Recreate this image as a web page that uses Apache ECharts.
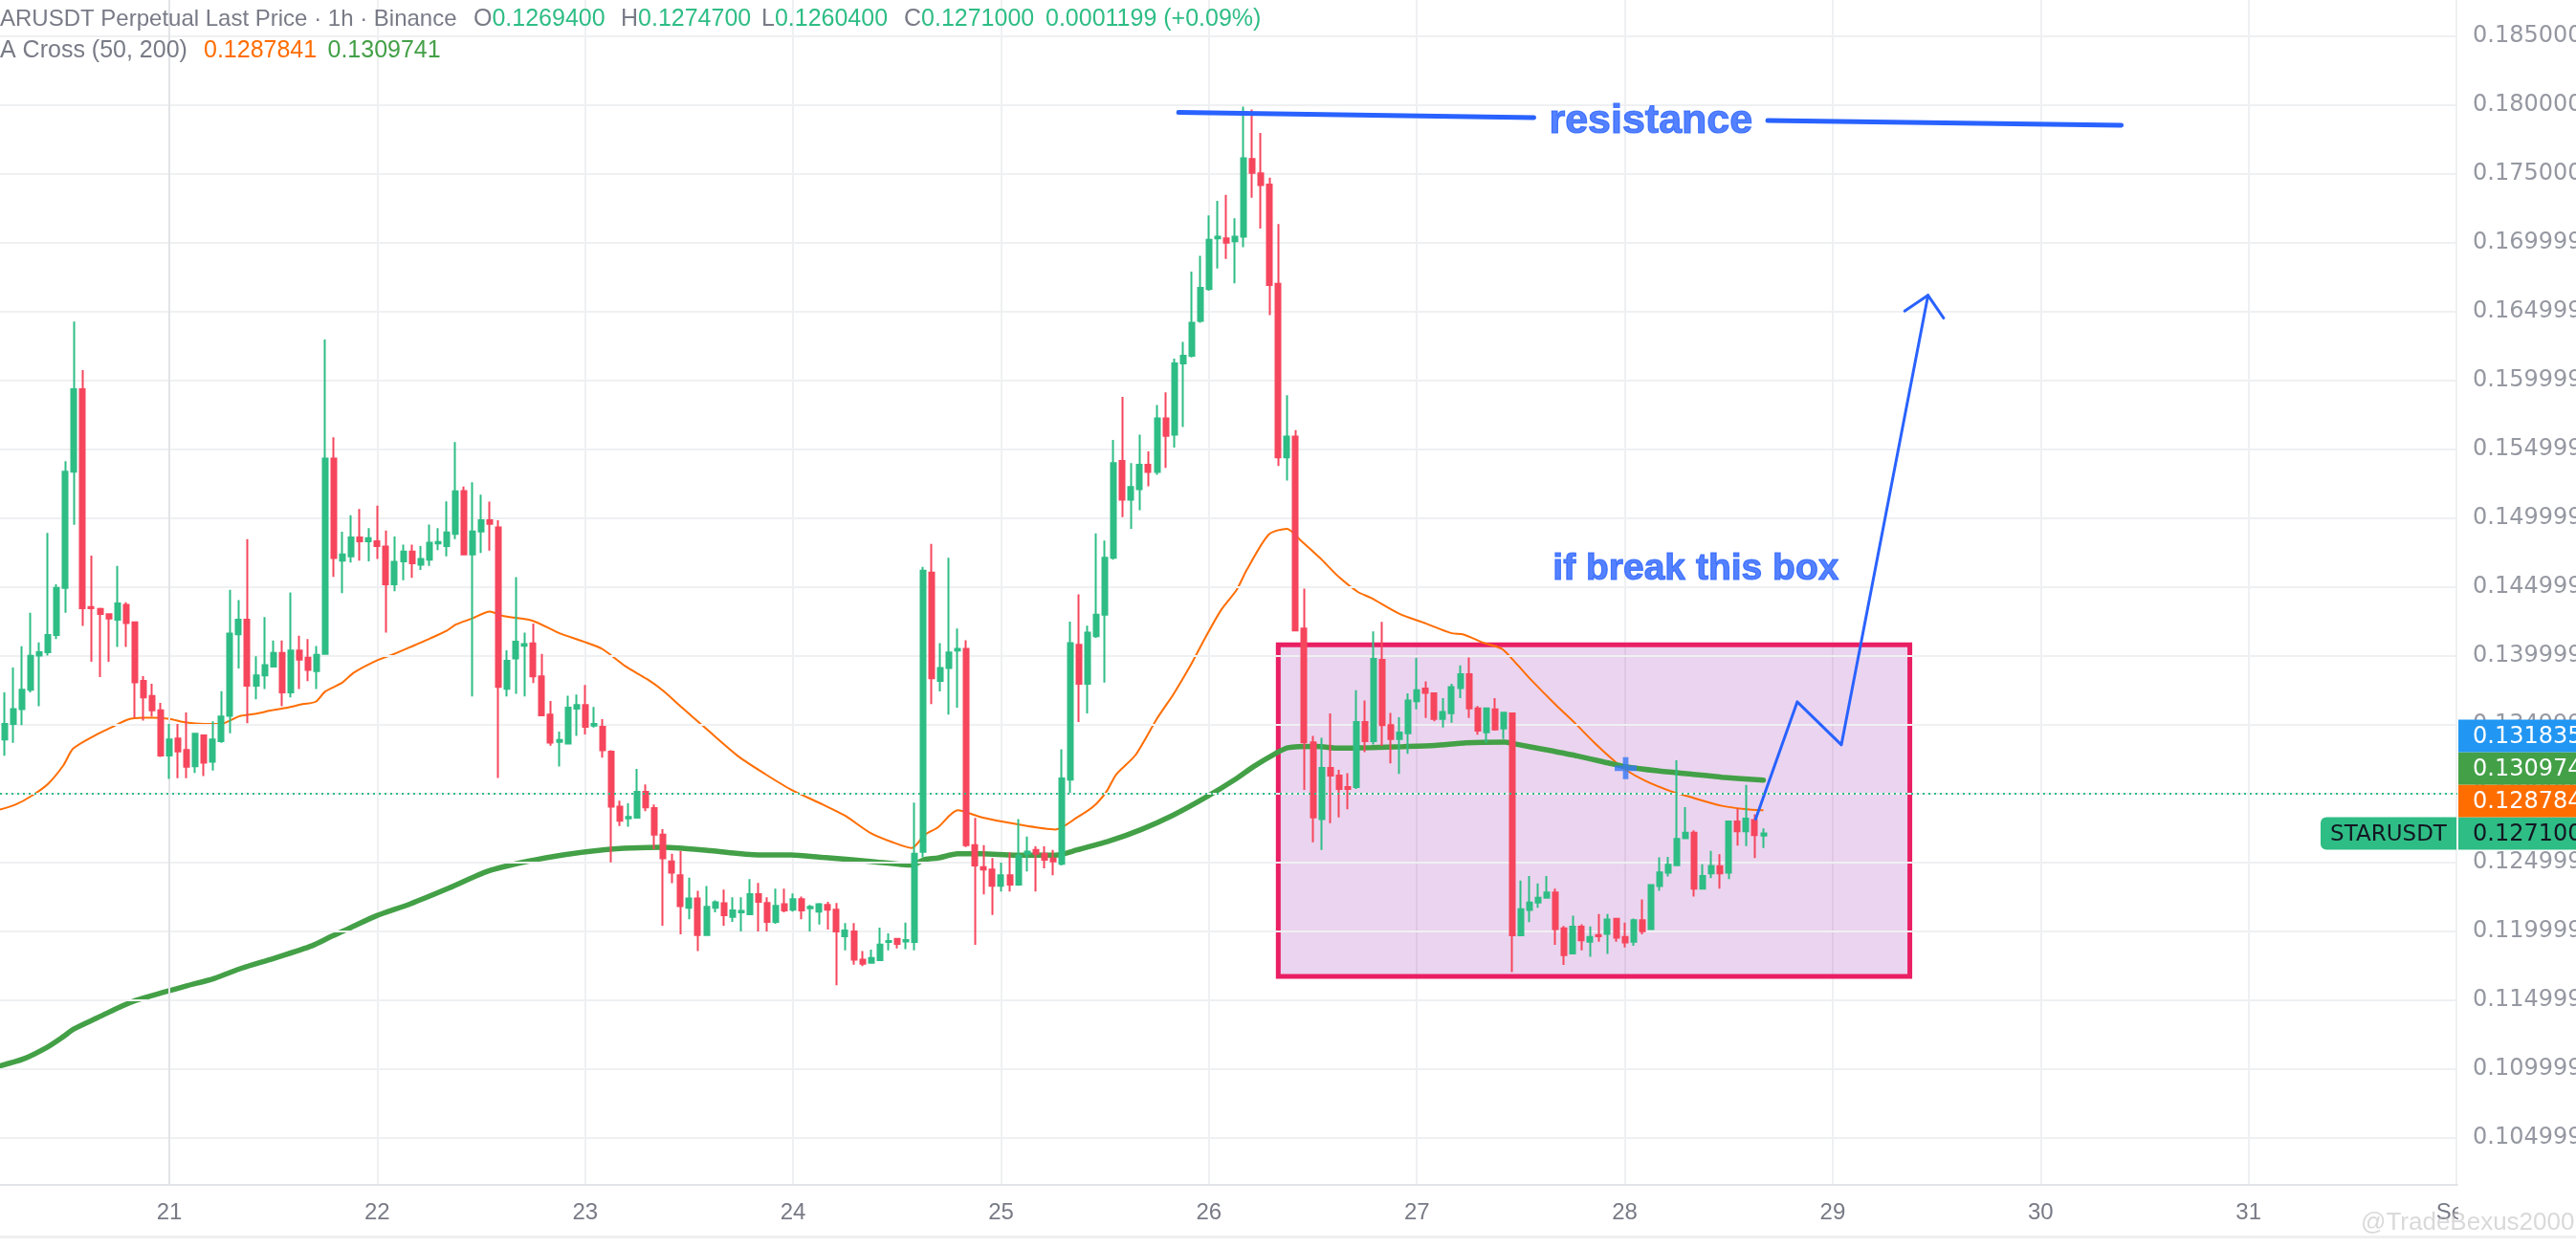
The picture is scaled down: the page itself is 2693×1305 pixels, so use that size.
<!DOCTYPE html>
<html><head><meta charset="utf-8">
<script src="https://cdn.jsdelivr.net/npm/echarts@6/dist/echarts.min.js"></script>
<style>html,body{margin:0;padding:0;background:#fff;overflow:hidden}#c{width:2693px;height:1305px}</style>
</head><body><div id="c"></div>
<script>
// ---------- DATA ----------
const firstHour = -19; // first candle: Aug 20 05:00 (hours from Aug 21 00:00)
const candleOpen = [
.13393,.13505,.13614,.13754,.14002,.14027,.14151,.14494,.15337,.15936,
.14355,.14340,.14303,.14263,.14370,.14243,.13818,.13709,.13604,.13276,
.13400,.13316,.13199,.13423,.13231,.13381,.13565,.14156,.14263,.13783,
.13858,.13923,.14022,.13734,.14039,.13987,.13890,.14015,.15432,.14691,
.14723,.14860,.14832,.14832,.14793,.14519,.14686,.14758,.14661,.14698,
.14817,.14798,.14885,.15197,.14737,.14903,.14985,.14933,.13760,.13981,
.14074,.14091,.13851,.13573,.13375,.13364,.13617,.13642,.13494,.13485,
.13304,.12905,.12819,.12825,.13012,.12894,.12701,.12508,.12406,.12170,
.12239,.11972,.12170,.12203,.12104,.12137,.12123,.12269,.12206,.12068,
.12197,.12156,.12233,.12167,.12142,.12192,.12156,.11963,.11999,.11793,
.11771,.11790,.11922,.11944,.11925,.11922,.12577,.14605,.13818,.13911,
.14038,.14050,.12625,.12465,.12448,.12330,.12406,.12338,.12562,.12591,
.12562,.12528,.12490,.13101,.14080,.13797,.14143,.14299,.14712,.15416,
.15134,.15210,.15387,.15336,.15724,.15606,.16124,.16179,.16432,.16664,
.17031,.17031,.17010,.17043,.17608,.17503,.17423,.16702,.15441,.15593,
.14198,.13371,.12815,.13186,.13131,.13047,.13047,.13519,.13380,.13970,
.13496,.13397,.13438,.13670,.13762,.13727,.13542,.13584,.13766,.13866,
.13619,.13445,.13612,.13473,.13582,.11970,.12155,.12208,.12243,.12282,
.12021,.11838,.12033,.11924,.11972,.11982,.12090,.11958,.11924,.12081,
.12016,.12328,.12426,.12479,.12675,.12715,.12310,.12420,.12472,.12426,
.12798,.12726,.12807,.12694];
const candleHigh = [
.13734,.13915,.14069,.14313,.14097,.14892,.14519,.15414,.16428,.16075,
.14728,.14350,.14308,.14653,.14390,.14243,.13853,.13798,.13659,.13505,
.13505,.13589,.13440,.13423,.13525,.13744,.14479,.14405,.14847,.13997,
.14281,.14112,.14112,.14460,.14146,.14121,.14072,.16297,.15588,.14902,
.15021,.15066,.14927,.15091,.14910,.14867,.14808,.14808,.14798,.14954,
.14927,.15121,.15553,.15230,.15260,.15170,.15120,.14985,.14041,.14572,
.14168,.14234,.14014,.13672,.13450,.13711,.13719,.13788,.13628,.13540,
.13315,.12949,.12929,.13180,.13067,.12921,.12742,.12563,.12583,.12390,
.12294,.12329,.12225,.12302,.12247,.12247,.12379,.12351,.12247,.12310,
.12310,.12274,.12252,.12192,.12206,.12214,.12206,.12060,.12060,.11856,
.11867,.12027,.11985,.11950,.12062,.12935,.14647,.14812,.14092,.14712,
.14198,.14113,.12823,.12625,.12532,.12499,.12574,.12815,.12688,.12617,
.12617,.12591,.13321,.14248,.14446,.14219,.14889,.14838,.15568,.15880,
.15399,.15606,.15484,.15821,.15914,.16158,.16280,.16790,.16904,.17199,
.17305,.17347,.17178,.17988,.17967,.17798,.17473,.17136,.15892,.15640,
.14489,.13418,.13405,.13582,.13173,.13148,.13751,.13676,.14178,.14247,
.13586,.13554,.13727,.13985,.13815,.13734,.13693,.13797,.13931,.13988,
.13635,.13623,.13693,.13593,.13588,.12368,.12402,.12347,.12402,.12310,
.12039,.12113,.12051,.12035,.12125,.12125,.12097,.12063,.12093,.12231,
.12340,.12537,.12541,.13242,.12902,.12733,.12486,.12583,.12560,.12803,
.12890,.13062,.12849,.12747];
const candleLow = [
.13274,.13368,.13497,.13734,.13634,.14002,.14121,.14313,.14952,.14218,
.13957,.13846,.13957,.14064,.14064,.13550,.13530,.13560,.13266,.13107,
.13112,.13112,.13149,.13127,.13167,.13368,.13438,.13908,.13510,.13684,
.13759,.13923,.13634,.13699,.13759,.13816,.13759,.14015,.14574,.14455,
.14678,.14691,.14686,.14703,.14169,.14469,.14549,.14566,.14624,.14653,
.14768,.14723,.14847,.14730,.13705,.14746,.14765,.13114,.13705,.13725,
.13705,.13802,.13563,.13348,.13196,.13364,.13419,.13430,.13480,.13260,
.12500,.12764,.12759,.12825,.12872,.12596,.12040,.12349,.11977,.12087,
.11856,.11966,.12137,.12040,.12068,.11999,.12123,.11999,.11999,.12054,
.12137,.12142,.12087,.11999,.12049,.12013,.11608,.11862,.11757,.11746,
.11765,.11785,.11862,.11875,.11870,.11862,.12536,.13650,.13742,.13574,
.13624,.12612,.11901,.12267,.12119,.12288,.12288,.12330,.12435,.12288,
.12457,.12406,.12477,.13005,.13519,.13582,.14130,.13806,.14699,.15007,
.14923,.15058,.15231,.15315,.15365,.15513,.15661,.16167,.16419,.16651,
.16812,.16883,.16706,.16968,.17326,.17102,.16474,.15378,.15273,.14177,
.13026,.12646,.12591,.12785,.12827,.12886,.13034,.13300,.13357,.13346,
.13219,.13142,.13288,.13612,.13549,.13524,.13480,.13515,.13693,.13549,
.13427,.13369,.13457,.13397,.11704,.11970,.12067,.12171,.12243,.11901,
.11755,.11836,.11862,.11815,.11924,.11836,.11924,.11882,.11894,.11977,
.12016,.12294,.12398,.12479,.12675,.12252,.12305,.12386,.12310,.12379,
.12622,.12618,.12532,.12604];
const candleClose = [
.13505,.13614,.13754,.14000,.14027,.14151,.14494,.15337,.15936,.14345,
.14345,.14305,.14271,.14380,.14238,.13808,.13699,.13604,.13276,.13393,
.13306,.13194,.13435,.13224,.13393,.13560,.14161,.14263,.13783,.13858,
.13933,.14022,.13734,.14039,.13972,.13898,.14007,.15432,.14711,.14736,
.14860,.14832,.14855,.14798,.14519,.14683,.14758,.14673,.14703,.14822,
.14827,.14897,.15195,.14737,.14903,.14985,.14958,.13774,.13964,.14102,
.14085,.13851,.13568,.13370,.13389,.13623,.13642,.13485,.13505,.13315,
.12905,.12803,.12830,.13012,.12899,.12701,.12530,.12426,.12183,.12239,
.11972,.12178,.12211,.12117,.12151,.12148,.12269,.12214,.12068,.12184,
.12151,.12233,.12151,.12178,.12197,.12156,.11999,.12005,.11793,.11765,
.11806,.11903,.11930,.11909,.11936,.12563,.14619,.13838,.13911,.14025,
.14050,.12625,.12478,.12448,.12330,.12406,.12338,.12549,.12579,.12562,
.12520,.12507,.13110,.14092,.13797,.14168,.14299,.14712,.15399,.15134,
.15226,.15387,.15336,.15724,.15597,.16124,.16179,.16419,.16672,.17022,
.17043,.17001,.17043,.17613,.17507,.17419,.16693,.15441,.15593,.14185,
.13371,.12827,.13186,.13131,.13034,.13034,.13519,.13380,.13977,.13496,
.13397,.13443,.13676,.13750,.13732,.13542,.13593,.13773,.13866,.13619,
.13457,.13619,.13466,.13588,.11970,.12160,.12208,.12243,.12282,.12016,
.11827,.12033,.11935,.11958,.11963,.12086,.11954,.11919,.12081,.12000,
.12336,.12428,.12483,.12671,.12715,.12310,.12402,.12474,.12420,.12798,
.12726,.12818,.12698,.12710];

const ma50Hours = [-19.54,-17.7,-15.9,-14.0,-12.2,-11.1,-8.5,-6.7,-4.8,-3.0,-1.9,0,1.8,4.0,5.9,8.1,9.9,11.8,13.6,15.4,16.9,18.0,19.9,21.3,23.9,25.7,28.3,30.1,32.0,33.1,34.9,37.0,38.6,41.9,44.9,47.8,50.0,52.6,55.2,57.0,59.2,62.2,65.8,68.8,71.7,75.4,78.0,80.9,83.5,85.7,87.2,88.7,91.0,93.8,97.5,102.3,104.8,106.7,108.2,109.3,111.5,114.0,115.9,117.7,119.6,121.4,123.2,124.4,126.9,129.0,130.6,132.8,135.0,137.2,138.7,142.0,145.0,147.9,149.4,151.6,153.8,155.6,157.1,160.0,162.3,164.5,166.7,168.1,170.4,173.3,175.5,179.2,181.8,184.0];
const ma50Values = [.12883,.12921,.12983,.13070,.13207,.13326,.13425,.13480,.13537,.13550,.13550,.13542,.13517,.13505,.13505,.13562,.13579,.13604,.13624,.13649,.13667,.13741,.13803,.13878,.13965,.14007,.14077,.14126,.14181,.14228,.14270,.14322,.14289,.14256,.14168,.14104,.14049,.13926,.13829,.13747,.13623,.13458,.13265,.13141,.13031,.12921,.12839,.12715,.12646,.12605,.12701,.12754,.12878,.12827,.12781,.12739,.12827,.12908,.13017,.13139,.13278,.13544,.13721,.13911,.14134,.14333,.14480,.14628,.14881,.14923,.14838,.14712,.14573,.14464,.14421,.14305,.14236,.14166,.14155,.14097,.14051,.13935,.13831,.13646,.13508,.13369,.13242,.13172,.13091,.13017,.12976,.12911,.12888,.12878];
const ma200Hours = [-19.54,-16.8,-14.1,-12.3,-11.0,-8.3,-6.0,-3.8,-0.6,2.1,5.2,8.4,12.0,16.5,18.8,21.0,23.9,27.8,32.3,36.8,41.3,45.8,50.3,53.3,57.0,58.8,62.5,68.0,71.7,75.4,80.9,85.7,87.2,88.7,91.0,93.8,97.5,102.3,104.8,108.5,112.2,115.9,119.6,123.2,125.1,127.7,129.1,132.4,135.0,138.7,142.4,146.1,149.7,154.2,155.6,158.9,162.6,166.3,168.1,171.8,175.5,179.2,184.0];
const ma200Values = [.11023,.11074,.11158,.11232,.11291,.11372,.11442,.11500,.11558,.11605,.11658,.11733,.11802,.11895,.11965,.12028,.12112,.12198,.12314,.12437,.12507,.12558,.12593,.12605,.12610,.12605,.12585,.12555,.12555,.12536,.12508,.12481,.12522,.12532,.12562,.12562,.12553,.12553,.12591,.12655,.12739,.12844,.12971,.13110,.13194,.13291,.13333,.13342,.13330,.13334,.13341,.13350,.13369,.13373,.13357,.13318,.13272,.13219,.13195,.13165,.13142,.13119,.13097];

const dayTicks = [0,24,48,72,96,120,144,168,192,216,240,264];
const dayLabels = ['21','22','23','24','25','26','27','28','29','30','31','Sep'];
const priceTicks = [0.105,0.11,0.115,0.12,0.125,0.13,0.135,0.14,0.145,0.15,0.155,0.16,0.165,0.17,0.175,0.18,0.185];
const priceTickLabels = ['0.1049999','0.1099999','0.1149999','0.1199999','0.1249999','0.1299999','0.1349999','0.1399999','0.1449999','0.1499999','0.1549999','0.1599999','0.1649999','0.1699999','0.1750000','0.1800000','0.1850000'];

const legendTitle = 'ARUSDT Perpetual Last Price · 1h · Binance';
const legendMaTitle = 'A Cross (50, 200)';
const ohlcLetters = ['O','H','L','C',''];
const ohlcLegend = ['0.1269400','0.1274700','0.1260400','0.1271000','0.0001199 (+0.09%)'];
const lastPrice = 0.1271;
const ma50Last = 0.1287841;
const ma200Last = 0.1309741;
const crossPrice = 0.131835;
const crossPoint = [168.1, 0.131835];

const resistanceLeft = [[116.5,0.17946],[157.5,0.17908]];
const resistanceRight = [[184.5,0.17887],[225.3,0.17853]];
const arrowPath = [[183.1,0.12815],[187.9,0.13666],[193.0,0.13354],[203.0,0.16618]];
const arrowHead = [[200.3,0.16504],[203.0,0.16618],[204.8,0.16453]];
const boxCorners = [[128.0,0.14080],[200.9,0.11672]];
const notes = [{text:'resistance', at:[171.0,0.17880], size:43},{text:'if break this box', at:[176.2,0.14628], size:39}];

// ---------- CHART ----------
const UP = '#2ebd85', DOWN = '#f6465d', BLUE = '#2962ff', GREY = '#787b86';
const chart = echarts.init(document.getElementById('c'));
const candles = candleOpen.map((o,i)=>[firstHour+i, o, candleClose[i], candleLow[i], candleHigh[i]]);
const zip = (xs, ys) => xs.map((x,i)=>[x, ys[i]]);

const annoLine = (data, width) => ({type:'line', data, z:4, silent:true, showSymbol:false, symbol:'none', animation:false,
  lineStyle:{color:BLUE, width, cap:'round', join:'round'}});

function legendText(x, y, letter, value, color, size){
  const f = {fontSize:size, fontFamily:'Liberation Sans'};
  return {type:'text', x, y, z:20, style:{text:(letter?'{g|'+letter+'}':'')+'{v|'+value+'}', textVerticalAlign:'middle', verticalAlign:'middle',
    rich:{g:Object.assign({fill:GREY}, f), v:Object.assign({fill:color}, f)}}};
}
const legendX = [495, 649, 796, 945, 1093];

const option = {
  animation:false,
  backgroundColor:'#ffffff',
  grid:{left:0, right:124, top:0, bottom:66, containLabel:false, outerBoundsMode:'none'},
  xAxis:{type:'value', min:-19.54, max:264.1, z:0,
    axisLine:{show:true, onZero:false, lineStyle:{color:'#e3e4e8', width:2}},
    axisTick:{show:false, customValues:dayTicks},
    axisLabel:{customValues:dayTicks, formatter:v=>dayLabels[dayTicks.indexOf(Math.round(v))]||'', color:GREY, fontSize:24, fontFamily:'Liberation Sans', margin:17},
    splitLine:{show:true, lineStyle:{color:'#eff0f2', width:2}}},
  yAxis:{type:'value', position:'right', min:0.101583, max:0.187625, z:3,
    axisLine:{show:true, lineStyle:{color:'#e3e4e8', width:2}},
    axisTick:{show:false, customValues:priceTicks},
    axisLabel:{customValues:priceTicks, formatter:v=>{let k=0,b=1;priceTicks.forEach((t,i)=>{if(Math.abs(t-v)<b){b=Math.abs(t-v);k=i;}});return priceTickLabels[k];},
      color:'#9598a1', fontSize:24, fontFamily:'DejaVu Sans', margin:16, align:'left'},
    splitLine:{show:true, lineStyle:{color:'#eff0f2', width:2}}},
  series:[
    {type:'line', name:'MA50', data:zip(ma50Hours, ma50Values), z:1, silent:true, showSymbol:false, symbol:'none', smooth:0.25,
      lineStyle:{color:'#ff6d00', width:2}},
    {type:'line', name:'MA200', data:zip(ma200Hours, ma200Values), z:1, silent:true, showSymbol:false, symbol:'none', smooth:0.25,
      lineStyle:{color:'#43a047', width:5.5, cap:'round'}},
    {type:'line', name:'box', data:[], z:2, silent:true,
      markArea:{silent:true, itemStyle:{color:'rgba(156,39,176,0.2)', borderColor:'#e91e63', borderWidth:5},
        data:[[{coord:boxCorners[0]},{coord:boxCorners[1]}]]}},
    {type:'candlestick', name:'STARUSDT', data:candles, z:3, barWidth:5.5, silent:true,
      itemStyle:{color:UP, color0:DOWN, borderColor:UP, borderColor0:DOWN, borderWidth:2},
      markLine:{silent:true, symbol:'none', label:{show:false}, lineStyle:{color:UP, type:[2,4], width:2},
        data:[{yAxis:lastPrice}]}},
    annoLine(resistanceLeft, 5),
    annoLine(resistanceRight, 5),
    annoLine(arrowPath, 3),
    annoLine(arrowHead, 3),
    {type:'scatter', data:[crossPoint], z:5, silent:true, symbol:'path://M9,0H15V9H24V15H15V24H9V15H0V9H9Z', symbolSize:23,
      itemStyle:{color:'#3478f6'}},
    {type:'scatter', z:6, silent:true, symbolSize:1, itemStyle:{color:'rgba(0,0,0,0)'},
      data:notes.map(n=>({name:n.text, value:n.at, label:{fontSize:n.size}})),
      label:{show:true, position:'inside', formatter:'{b}', color:BLUE, fontWeight:'bold', fontFamily:'Liberation Sans',
        textBorderColor:BLUE, textBorderWidth:1.2}}
  ],
  graphic:[
    {type:'rect', z:1, shape:{x:2570, y:0, width:123, height:1305}, style:{fill:'#ffffff'}},
    {type:'rect', z:2, shape:{x:0, y:1292, width:2693, height:3}, style:{fill:'#efefef'}},
    legendText(0, 20, '', legendTitle, GREY, 24),
    ...ohlcLegend.map((v,i)=>legendText(legendX[i], 20, ohlcLetters[i], v, UP, 25)),
    legendText(0, 53, '', legendMaTitle, GREY, 25),
    legendText(213, 53, '', ma50Last.toFixed(7), '#ff6d00', 25),
    legendText(342.5, 53, '', ma200Last.toFixed(7), '#43a047', 25),
    {type:'text', x:2468, y:1279, z:20, style:{text:'@TradeBexus2000', fill:'rgba(185,185,185,0.55)', font:'26px "Liberation Sans"', textVerticalAlign:'middle', verticalAlign:'middle'}}
  ]
};
chart.setOption(option);

// price tags on the scale, stacked like the reference
const tagH = 34;
const tags = [
  {v:lastPrice, bg:UP, fg:'#131722', text:lastPrice.toFixed(7)},
  {v:ma50Last, bg:'#ff6d00', fg:'#ffffff', text:ma50Last.toFixed(7)},
  {v:ma200Last, bg:'#43a047', fg:'#ffffff', text:ma200Last.toFixed(7)},
  {v:crossPrice, bg:'#2196f3', fg:'#ffffff', text:crossPrice.toFixed(7)}
].sort((a,b)=>a.v-b.v);
let prevTop = Infinity;
const tagEls = [];
tags.forEach(t=>{
  const yc = chart.convertToPixel({yAxisIndex:0}, t.v);
  let top = yc - tagH/2;
  if (top + tagH > prevTop) top = prevTop - tagH;
  prevTop = top;
  tagEls.push({type:'rect', z:30, shape:{x:2570, y:top, width:123, height:tagH}, style:{fill:t.bg}});
  tagEls.push({type:'text', z:31, x:2585, y:top+tagH/2+1, style:{text:t.text, fill:t.fg, font:'24px "DejaVu Sans"', textVerticalAlign:'middle', verticalAlign:'middle'}});
  if (t.v === lastPrice) {
    tagEls.push({type:'rect', z:30, shape:{x:2426, y:top, width:142, height:tagH, r:[6,0,0,6]}, style:{fill:t.bg}});
    tagEls.push({type:'text', z:31, x:2497, y:top+tagH/2+1, style:{text:'STARUSDT', fill:t.fg, font:'23px "DejaVu Sans"', textAlign:'center', align:'center', textVerticalAlign:'middle', verticalAlign:'middle'}});
  }
});
chart.setOption({graphic: option.graphic.concat(tagEls)});
</script>
</body></html>
